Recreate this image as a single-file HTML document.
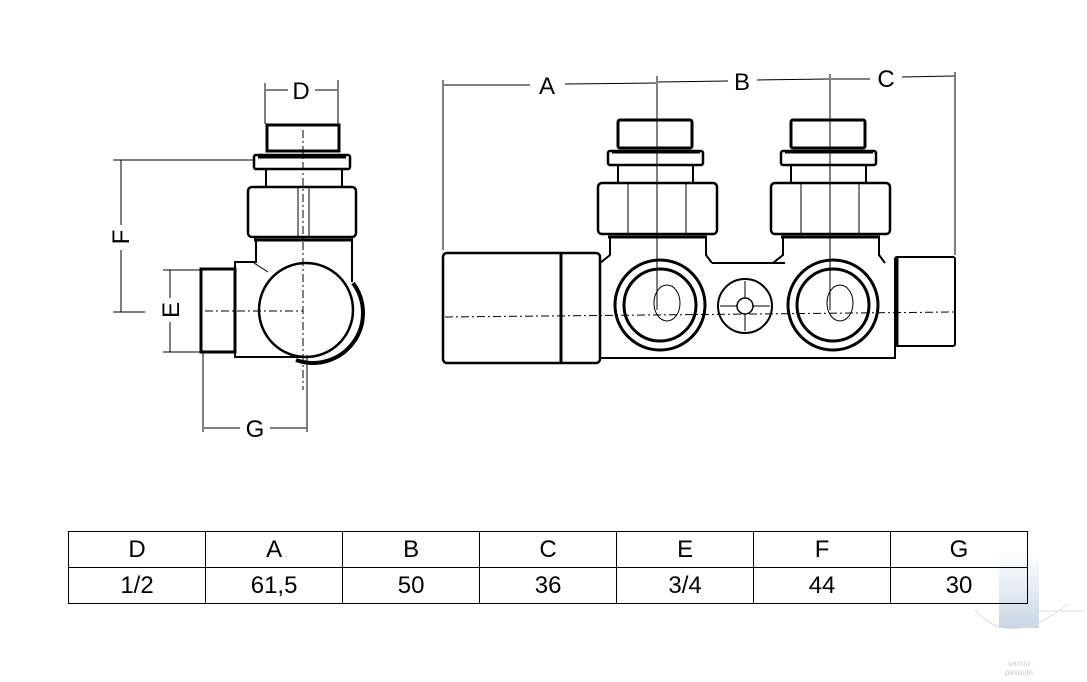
<!DOCTYPE html>
<html><head><meta charset="utf-8"><style>
html,body{margin:0;padding:0;background:#fff;}
body{width:1087px;height:682px;overflow:hidden;position:relative;font-family:"Liberation Sans",sans-serif;}
svg{position:absolute;left:0;top:0;}
table{position:absolute;left:68px;top:531px;border-collapse:collapse;width:960px;}
td{border:1px solid #000;height:35px;padding:0;text-align:center;font-size:24px;width:137px;color:#000;}
</style></head><body>
<svg width="1087" height="682" viewBox="0 0 1087 682" fill="none" stroke="#000" stroke-width="2">
<defs>
<linearGradient id="wm" x1="0" y1="0" x2="0" y2="1"><stop offset="0" stop-color="#fff"/><stop offset="1" stop-color="#c8d6e6"/></linearGradient>
</defs>
<rect x="999" y="553" width="40" height="75" fill="url(#wm)" stroke="none"/>
<path d="M975 610 Q1010 650 1068 604" stroke="#ddd" stroke-width="1"/>
<line x1="1000" y1="611" x2="1085" y2="611" stroke="#ddd" stroke-width="1"/>
<text x="1019" y="666" font-size="8" fill="#ccc" stroke="none" text-anchor="middle">vannu</text>
<text x="1019" y="675" font-size="8" fill="#ccc" stroke="none" text-anchor="middle">pasaule</text>

<g stroke-width="1">
<line x1="265" y1="83" x2="265" y2="124"/><line x1="338" y1="80" x2="338" y2="124"/>
<line x1="266" y1="90" x2="288" y2="90"/><line x1="315" y1="90" x2="337" y2="90"/>
<line x1="113" y1="160" x2="254" y2="160"/><line x1="113" y1="312" x2="145" y2="312"/>
<line x1="121" y1="160" x2="121" y2="225"/><line x1="121" y1="250" x2="121" y2="312"/>
<line x1="163" y1="270" x2="202" y2="270"/><line x1="163" y1="352" x2="202" y2="352"/>
<line x1="170" y1="270" x2="170" y2="298"/><line x1="170" y1="322" x2="170" y2="352"/>
<line x1="203" y1="352" x2="203" y2="432"/><line x1="307" y1="355" x2="307" y2="432"/>
<line x1="204" y1="428" x2="240" y2="428"/><line x1="270" y1="428" x2="306" y2="428"/>
<line x1="303" y1="130" x2="303" y2="390" stroke-dasharray="8 3 2 3"/>
<line x1="205" y1="311" x2="303" y2="311" stroke-dasharray="8 3 2 3"/>
</g>
<g fill="#000" stroke="none" font-size="24">
<text x="301" y="99" text-anchor="middle">D</text>
<text x="255" y="437" text-anchor="middle">G</text>
<text transform="translate(129,237) rotate(-90)" text-anchor="middle">F</text>
<text transform="translate(179,310) rotate(-90)" text-anchor="middle">E</text>
</g>
<rect x="267" y="125" width="72" height="26" stroke-width="3"/>
<rect x="254" y="155" width="96" height="14" rx="2" stroke-width="2.5"/>
<line x1="258" y1="157" x2="346" y2="157" stroke-width="3"/>
<rect x="266" y="169" width="76" height="18"/>
<rect x="248" y="187" width="108" height="50" rx="4" stroke-width="2.5"/>
<line x1="298" y1="188" x2="298" y2="236" stroke-width="1"/><line x1="309" y1="188" x2="309" y2="236" stroke-width="1"/>
<path d="M256 238 V262 H235 V357 H302" stroke-width="2"/>
<path d="M352 238 V282"/>
<line x1="254" y1="240" x2="352" y2="240" stroke-width="3"/>
<path d="M296 360 A50 50 0 0 0 353 283" stroke-width="4"/>
<circle cx="306" cy="310" r="47" stroke-width="2.5"/>
<rect x="201" y="269" width="34" height="83" stroke-width="3"/>
<path d="M254 263 L268 272" stroke-width="1"/>

<g stroke-width="1">
<line x1="443" y1="80" x2="443" y2="250"/><line x1="955" y1="72" x2="955" y2="255"/>
<line x1="657" y1="76" x2="657" y2="310"/><line x1="830" y1="74" x2="830" y2="310"/>
<line x1="444" y1="85" x2="530" y2="85"/><line x1="565" y1="84" x2="656" y2="83"/>
<line x1="658" y1="82" x2="728" y2="81"/><line x1="757" y1="80" x2="829" y2="79"/>
<line x1="831" y1="79" x2="870" y2="79"/><line x1="902" y1="77" x2="954" y2="76"/>
<line x1="445" y1="317" x2="955" y2="312" stroke-dasharray="8 3 2 3"/>
</g>
<g fill="#000" stroke="none" font-size="24">
<text x="547" y="94" text-anchor="middle">A</text>
<text x="742" y="90" text-anchor="middle">B</text>
<text x="886" y="87" text-anchor="middle">C</text>
</g>
<rect x="443" y="253" width="157" height="110" rx="4" stroke-width="2.5"/>
<line x1="561" y1="253" x2="561" y2="363" stroke-width="3"/>
<path d="M600 263 V358 H895 V259" stroke-width="2"/>
<path d="M712 263 H785"/>
<rect x="895" y="257" width="60" height="89" rx="2" stroke-width="2"/>
<line x1="897" y1="258" x2="897" y2="346" stroke-width="3"/>
<g id="v1">
<rect x="618" y="120" width="74" height="28" rx="2" stroke-width="3"/>
<rect x="608" y="151" width="95" height="14" rx="2" stroke-width="2.5"/>
<line x1="612" y1="152" x2="700" y2="152" stroke-width="3"/>
<rect x="618" y="165" width="75" height="18"/>
<rect x="598" y="183" width="119" height="51" rx="4" stroke-width="2.5"/>
<line x1="628" y1="184" x2="628" y2="233" stroke-width="1"/><line x1="686" y1="184" x2="686" y2="233" stroke-width="1"/>
<line x1="608" y1="237" x2="707" y2="237" stroke-width="3"/>
<path d="M610 238 V255 L600 263 M706 238 V255 L712 263" />
<circle cx="660" cy="305" r="45" stroke-width="3"/>
<circle cx="660" cy="305" r="36" stroke-width="3"/>
<ellipse cx="667" cy="303" rx="13" ry="18" stroke-width="1"/>
</g>
<use href="#v1" transform="translate(173,0)"/>
<circle cx="745" cy="306" r="27" stroke-width="2"/>
<circle cx="745" cy="306" r="8" stroke-width="1.5"/>
<path d="M745 281 V298 M745 314 V331 M720 306 H737 M753 306 H770" stroke-width="1"/>
</svg>
<table>
<tr><td>D</td><td>A</td><td>B</td><td>C</td><td>E</td><td>F</td><td>G</td></tr>
<tr><td>1/2</td><td>61,5</td><td>50</td><td>36</td><td>3/4</td><td>44</td><td>30</td></tr>
</table>
</body></html>
